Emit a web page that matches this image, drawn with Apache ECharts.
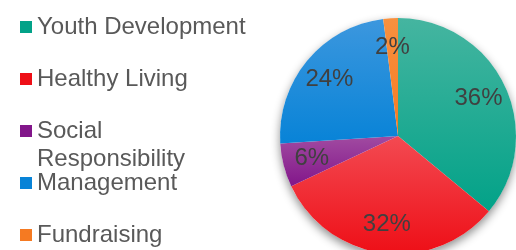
<!DOCTYPE html>
<html>
<head>
<meta charset="utf-8">
<script src="https://cdn.jsdelivr.net/npm/echarts@6/dist/echarts.min.js"></script>
<style>
  html, body { margin: 0; padding: 0; background: #fff; }
  #chart { width: 516px; height: 250px; }
</style>
</head>
<body>
<div id="chart"></div>
<script>
// categories and shares (percent), clockwise from 12 o'clock
const names = ['Youth Development', 'Healthy Living', 'Social\nResponsibility', 'Management', 'Fundraising']
const values = [36, 32, 6, 24, 2]
// top / bottom colour of each slice gradient
const topColors = ['#45b5a0', '#f34a52', '#a14ba1', '#3c97de', '#f8913f']
const bottomColors = ['#02a288', '#ee0f17', '#82168a', '#0883d7', '#f57a22']

const grad = (i) => ({
  type: 'linear', x: 0, y: 0, x2: 0, y2: 1,
  colorStops: [
    { offset: 0, color: topColors[i] },
    { offset: 1, color: bottomColors[i] }
  ],
  global: false
})

const total = values.reduce((a, b) => a + b, 0)
const center = [398, 136]
const R = 118
const lineH = 28

// one legend per entry so the wrapped name keeps its icon on the first line
const legends = names.map((n, i) => {
  const wrapped = n.indexOf('\n') >= 0
  const rowCenter = 22 + i * 52
  return {
    orient: 'vertical',
    left: 15,
    top: wrapped ? rowCenter - lineH * 1.5 : rowCenter - lineH / 2,
    itemWidth: 12,
    itemHeight: 12,
    icon: 'rect',
    formatter: wrapped ? (name) => '\n' + name : null,
    textStyle: {
      fontFamily: 'Liberation Sans',
      fontSize: 24,
      lineHeight: lineH,
      color: '#595959'
    },
    data: [{ name: n, itemStyle: { color: bottomColors[i] } }]
  }
})

let myChart = echarts.init(document.getElementById('chart'))
myChart.setOption({
  animation: false,
  legend: legends,
  series: [
    {
      // soft drop shadow behind the whole pie
      type: 'pie',
      center: center,
      radius: R,
      silent: true,
      legendHoverLink: false,
      label: { show: false },
      labelLine: { show: false },
      itemStyle: {
        color: '#fff',
        shadowBlur: 10,
        shadowOffsetY: 4,
        shadowColor: 'rgba(0,0,0,0.45)'
      },
      data: [{ name: '', value: total }]
    },
    {
      type: 'pie',
      center: center,
      radius: R,
      startAngle: 90,
      clockwise: true,
      label: { show: false },
      labelLine: { show: false },
      itemStyle: { borderWidth: 0 },
      data: names.map((n, i) => ({ name: n, value: values[i], itemStyle: { color: grad(i) } }))
    },
    {
      // transparent ring only used to place the percentage labels
      type: 'pie',
      center: center,
      radius: [54, R],
      startAngle: 90,
      clockwise: true,
      silent: true,
      legendHoverLink: false,
      itemStyle: { color: 'rgba(0,0,0,0)', borderWidth: 0 },
      label: {
        show: true,
        position: 'inside',
        formatter: (p) => p.value + '%',
        fontFamily: 'Liberation Sans',
        fontSize: 24,
        color: '#404040'
      },
      labelLine: { show: false },
      data: names.map((n, i) => ({ name: n + ' ', value: values[i] }))
    }
  ]
})
</script>
</body>
</html>
